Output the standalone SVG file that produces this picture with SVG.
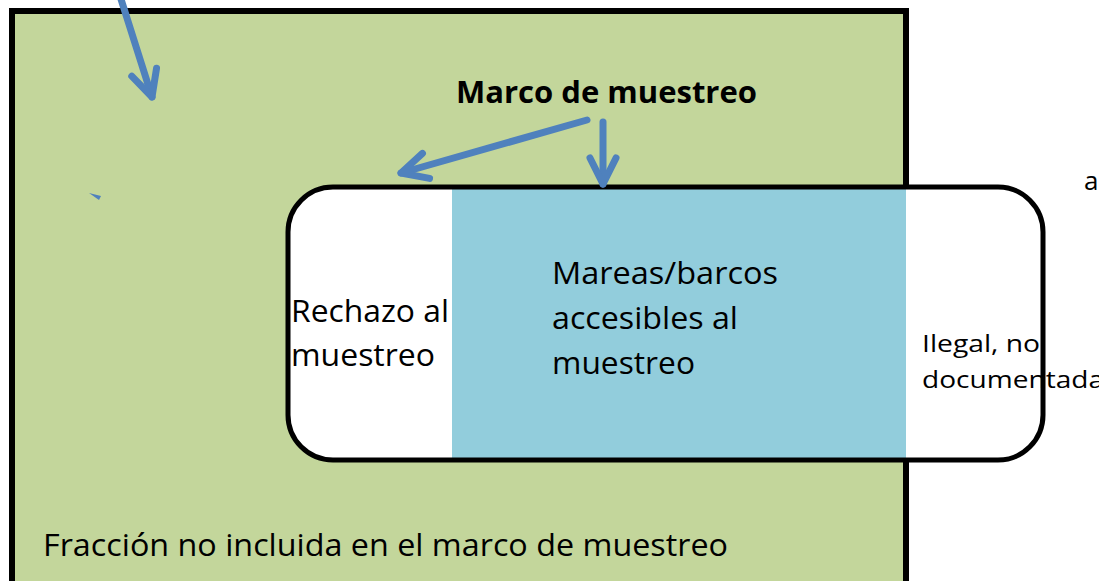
<svg xmlns="http://www.w3.org/2000/svg" width="1099" height="581" viewBox="0 0 1099 581">
<style>
.t{font-family:"Open Sans","Noto Sans","Liberation Sans",sans-serif;fill:#000}
.arr{fill:none;stroke:#4F81BD;stroke-width:7;stroke-linecap:round;stroke-linejoin:round}
</style>
<defs>
<marker id="ah" markerUnits="userSpaceOnUse" viewBox="-32 -20 40 40" refX="0" refY="0" markerWidth="40" markerHeight="40" orient="auto" overflow="visible">
<path d="M-26,-13 L0,0 L-26,13" fill="none" stroke="#4F81BD" stroke-width="7" stroke-linecap="round" stroke-linejoin="round"/>
</marker>
</defs>
<rect width="1099" height="581" fill="#fff"/>
<g id="fraccion">
<rect x="12" y="11" width="894" height="620" fill="#C3D69B" stroke="#000" stroke-width="6"/>
<text class="t" x="43" y="556" font-size="31" textLength="685" lengthAdjust="spacingAndGlyphs">Fracción no incluida en el marco de muestreo</text>
</g>
<g id="marco-label">
<text class="t" x="456" y="103" font-size="30" font-weight="bold" textLength="301" lengthAdjust="spacingAndGlyphs">Marco de muestreo</text>
</g>
<g id="marco">
<rect x="288" y="187" width="755" height="273" rx="45" ry="45" fill="#fff"/>
</g>
<g id="accesibles">
<rect x="452" y="189" width="454" height="271" fill="#92CDDC"/>
<text class="t" font-size="31"><tspan x="552" y="284" textLength="226" lengthAdjust="spacingAndGlyphs">Mareas/barcos</tspan><tspan x="552" y="329" textLength="186" lengthAdjust="spacingAndGlyphs">accesibles al</tspan><tspan x="552" y="374" textLength="143" lengthAdjust="spacingAndGlyphs">muestreo</tspan></text>
</g>
<g id="rechazo">
<text class="t" font-size="31"><tspan x="291" y="322" textLength="158" lengthAdjust="spacingAndGlyphs">Rechazo al</tspan><tspan x="291" y="366" textLength="144" lengthAdjust="spacingAndGlyphs">muestreo</tspan></text>
</g>
<g id="ilegal">
<text class="t" font-size="23"><tspan x="922" y="352" textLength="118" lengthAdjust="spacingAndGlyphs">Ilegal, no</tspan><tspan x="922" y="388" textLength="182" lengthAdjust="spacingAndGlyphs">documentada</tspan></text>
<text class="t" x="1084" y="190" font-size="26">a</text>
</g>
<g id="marco-border">
<rect x="288" y="187" width="755" height="273" rx="45" ry="45" fill="none" stroke="#000" stroke-width="5"/>
</g>
<g id="connectors">
<path class="arr" d="M120,-4 L152,97" marker-end="url(#ah)"/>
<path class="arr" d="M587,120 L401,173" marker-end="url(#ah)"/>
<path class="arr" d="M603,122 L603,184" marker-end="url(#ah)"/>
<path d="M89,193 L101,196 L99,200 Z" fill="#4F81BD"/>
</g>
</svg>
